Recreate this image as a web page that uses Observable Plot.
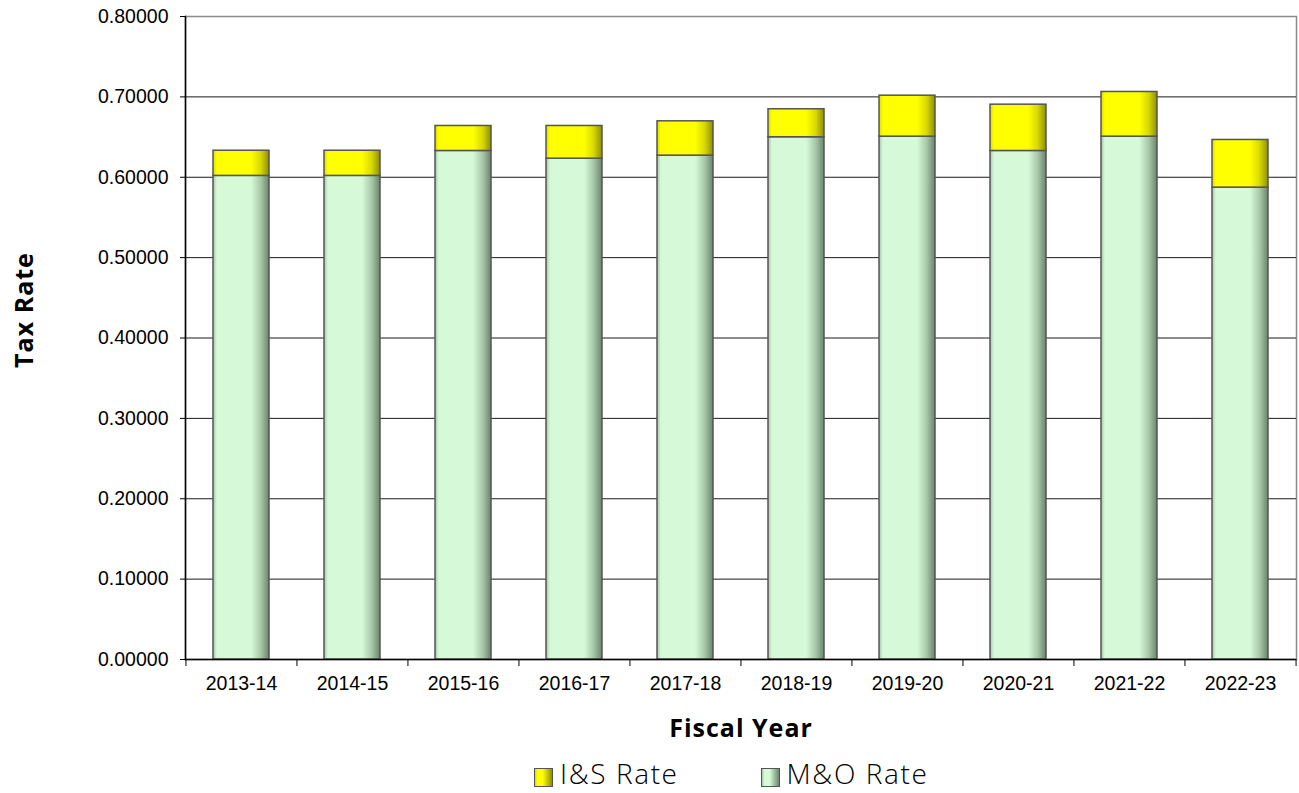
<!DOCTYPE html>
<html>
<head>
<meta charset="utf-8">
<script src="https://cdn.jsdelivr.net/npm/d3@7"></script>
<script src="https://cdn.jsdelivr.net/npm/@observablehq/plot@0.6"></script>
<style>
  html, body { margin: 0; padding: 0; background: #fff; }
  #wrap { position: relative; width: 1299px; height: 793px; overflow: hidden; }
  #ylab { position: absolute; left: 23px; top: 310px; transform: translate(-50%, -50%) rotate(-90deg);
          font: bold 25px "Open Sans", sans-serif; letter-spacing: 1px; line-height: 1; white-space: nowrap; color: #000; }
  #xlab { position: absolute; left: 741px; top: 727px; transform: translate(-50%, -50%);
          font: bold 25px "Open Sans", sans-serif; letter-spacing: 1px; line-height: 1; white-space: nowrap; color: #000; }
  #legend { position: absolute; left: 534px; top: 754px; height: 38px;
            display: flex; font: 300 28px "Open Sans", sans-serif; letter-spacing: 1.6px;
            line-height: 38px; color: #000; }
  .item { display: flex; align-items: center; white-space: nowrap; }
  .sw { width: 17px; height: 17px; border: 1px solid #555; margin-right: 7px; margin-top: 9px; }
</style>
</head>
<body>
<div id="wrap">
  <div id="chart"></div>
  <div id="ylab">Tax Rate</div>
  <div id="xlab">Fiscal Year</div>
  <div id="legend"></div>
</div>
<script>
const years = ["2013-14","2014-15","2015-16","2016-17","2017-18","2018-19","2019-20","2020-21","2021-22","2022-23"];
const moRate = [0.6017,0.6017,0.6327,0.6231,0.6269,0.6498,0.6505,0.6327,0.6505,0.5871];
const isRate = [0.0313,0.0313,0.0311,0.0407,0.0427,0.0348,0.0510,0.0576,0.0556,0.0593];
const yTicks = [0,0.1,0.2,0.3,0.4,0.5,0.6,0.7,0.8];
const seriesNames = ["I&S Rate","M&O Rate"];

const rows = years.map((y, i) => ({year: y, mo: moRate[i], is: isRate[i], total: moRate[i] + isRate[i]}));

const W = 1299, H = 745, ML = 185, MR = 3, MT = 16, MB = 86;
const step = (W - ML - MR) / years.length;

function defs() {
  const g = d3.create("svg:defs");
  const gr = g.append("linearGradient").attr("id", "gGreen").attr("x1", "0").attr("x2", "1").attr("y1", "0").attr("y2", "0");
  [[0,"#a9c4a9"],[0.07,"#d6fad8"],[0.68,"#d6fad8"],[0.85,"#a8c8a8"],[1,"#6b846b"]].forEach(([o,c]) => gr.append("stop").attr("offset", o).attr("stop-color", c));
  const gy = g.append("linearGradient").attr("id", "gYellow").attr("x1", "0").attr("x2", "1").attr("y1", "0").attr("y2", "0");
  [[0,"#d9d900"],[0.07,"#ffff00"],[0.68,"#ffff00"],[0.85,"#d8d800"],[1,"#8f8f00"]].forEach(([o,c]) => gy.append("stop").attr("offset", o).attr("stop-color", c));
  return g.node();
}

const chart = Plot.plot({
  width: W, height: H,
  marginLeft: ML, marginRight: MR, marginTop: MT, marginBottom: MB,
  x: {domain: years, paddingInner: 0.5, paddingOuter: 0.25, label: null},
  y: {domain: [0, 0.8], label: null},
  style: {fontFamily: "'Liberation Sans', Arial, sans-serif", fontSize: "19.5px", color: "#000", background: "#fff", overflow: "visible"},
  marks: [
    defs,
    Plot.frame({stroke: "#8a8a8a", strokeWidth: 1.5}),
    Plot.ruleY(yTicks.slice(1, -1), {stroke: "#1a1a1a", strokeWidth: 1}),
    Plot.barY(rows, {x: "year", y1: 0, y2: "mo", fill: "url(#gGreen)", stroke: "#555", strokeWidth: 1.5}),
    Plot.barY(rows, {x: "year", y1: "mo", y2: "total", fill: "url(#gYellow)", stroke: "#555", strokeWidth: 1.5}),
    Plot.ruleY([0], {stroke: "#000", strokeWidth: 1.5}),
    Plot.frame({anchor: "left", stroke: "#000", strokeWidth: 1.5}),
    Plot.axisY({ticks: yTicks, tickFormat: d3.format(".5f"), tickSize: 5, tickPadding: 12, label: null}),
    Plot.axisX({tickSize: 0, tickPadding: 17, label: null}),
    Plot.axisX({tickSize: 7, tickFormat: () => "", dx: -step / 2, label: null}),
    Plot.axisX({ticks: [years[years.length - 1]], tickSize: 7, tickFormat: () => "", dx: step / 2, label: null})
  ]
});
document.getElementById("chart").appendChild(chart);

const legend = document.getElementById("legend");
const fills = {"I&S Rate": "linear-gradient(to right, #d9d900, #ffff00 15%, #ffff00 45%, #8f8f00)", "M&O Rate": "linear-gradient(to right, #a9c4a9, #d6fad8 15%, #d6fad8 45%, #6b846b)"};
seriesNames.forEach((n, i) => {
  const it = document.createElement("div");
  it.className = "item";
  if (i > 0) it.style.marginLeft = "82px";
  const sw = document.createElement("div");
  sw.className = "sw";
  sw.style.background = fills[n];
  const t = document.createElement("span");
  t.textContent = n;
  it.appendChild(sw); it.appendChild(t);
  legend.appendChild(it);
});
</script>
</body>
</html>
